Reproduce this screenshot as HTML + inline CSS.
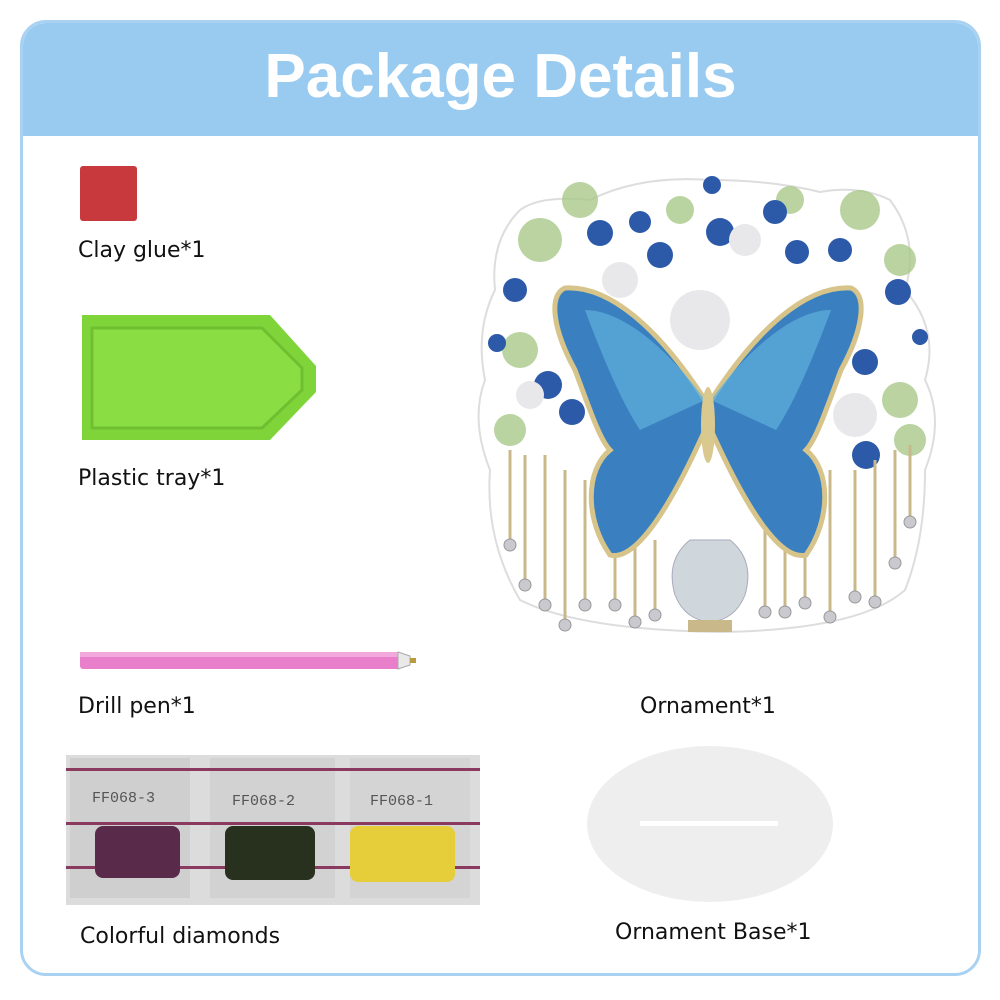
<!DOCTYPE html>
<html><head><meta charset="utf-8"><style>
body{margin:0;width:1000px;height:1000px;background:#fff;position:relative;overflow:hidden;font-family:"Liberation Sans",sans-serif}
.frame{position:absolute;left:20px;top:20px;width:961px;height:956px;border:3px solid #a9d2f2;border-radius:26px;box-sizing:border-box;overflow:hidden}
.hdr{position:absolute;left:0;top:0;width:100%;height:113px;background:#99cbf1}
.hdr div{position:absolute;left:0;right:0;top:18px;text-align:center;color:#fff;font-weight:bold;font-size:62px;font-family:"Liberation Sans",sans-serif}
.lbl{position:absolute;font-size:22px;color:#111;font-family:"DejaVu Sans","Liberation Sans",sans-serif;white-space:nowrap}
</style></head><body>
<div class="frame"><div class="hdr"><div>Package Details</div></div></div>
<div style="position:absolute;left:80px;top:166px;width:57px;height:55px;background:#c8393d;border-radius:3px"></div>
<div class="lbl" style="left:78px;top:238px">Clay glue*1</div>
<svg style="position:absolute;left:0;top:0" width="1000" height="1000">
<polygon points="82,315 270,315 316,366 316,392 270,440 82,440" fill="#7fd43a"/>
<polygon points="92,328 262,328 302,368 302,390 262,428 92,428" fill="#8ade44" stroke="#6fbf30" stroke-width="3"/>
<rect x="80" y="652" width="320" height="17" rx="3" fill="#e97fcb"/>
<rect x="80" y="652" width="320" height="5" fill="#f2a8dd"/>
<polygon points="398,652 410,656 410,665 398,669" fill="#e9e9e9" stroke="#aaa"/>
<rect x="410" y="658" width="6" height="5" fill="#b89a40"/>
<rect x="66" y="755" width="414" height="150" fill="#dcdcdc"/>
<rect x="70" y="758" width="120" height="140" fill="#cfcfcf"/>
<rect x="210" y="758" width="125" height="140" fill="#d2d2d2"/>
<rect x="350" y="758" width="120" height="140" fill="#d4d4d4"/>
<rect x="66" y="768" width="414" height="3" fill="#8a3a5e"/>
<rect x="66" y="822" width="414" height="3" fill="#8a3a5e"/>
<rect x="66" y="866" width="414" height="3" fill="#8a3a5e"/>
<rect x="95" y="826" width="85" height="52" fill="#5a2a4a" rx="8"/>
<rect x="225" y="826" width="90" height="54" fill="#28301e" rx="8"/>
<rect x="350" y="826" width="105" height="56" fill="#e6cd3a" rx="8"/>
<text x="92" y="802" font-family="Liberation Mono" font-size="15" fill="#555">FF068-3</text>
<text x="232" y="805" font-family="Liberation Mono" font-size="15" fill="#555">FF068-2</text>
<text x="370" y="805" font-family="Liberation Mono" font-size="15" fill="#555">FF068-1</text>
<ellipse cx="710" cy="824" rx="123" ry="78" fill="#eeeeee"/>
<rect x="640" y="821" width="138" height="5" fill="#fff"/>
<path d="M520,210 Q540,195 590,200 Q640,175 710,180 Q770,180 820,192 Q860,185 890,200 Q920,240 905,290 Q940,330 925,380 Q945,420 925,470 Q925,540 905,590 Q860,630 720,632 Q580,630 520,600 Q485,540 490,470 Q470,420 485,380 Q475,330 495,290 Q490,240 520,210Z" fill="#fff" stroke="#ddd" stroke-width="2"/>
<g fill="#a9c98a" opacity="0.8">
<circle cx="540" cy="240" r="22"/><circle cx="580" cy="200" r="18"/><circle cx="860" cy="210" r="20"/><circle cx="900" cy="260" r="16"/><circle cx="520" cy="350" r="18"/><circle cx="900" cy="400" r="18"/><circle cx="510" cy="430" r="16"/><circle cx="910" cy="440" r="16"/><circle cx="790" cy="200" r="14"/><circle cx="680" cy="210" r="14"/>
</g>
<g fill="#2d5aa8">
<circle cx="600" cy="233" r="13"/><circle cx="640" cy="222" r="11"/><circle cx="660" cy="255" r="13"/><circle cx="720" cy="232" r="14"/><circle cx="775" cy="212" r="12"/><circle cx="797" cy="252" r="12"/><circle cx="840" cy="250" r="12"/><circle cx="898" cy="292" r="13"/><circle cx="515" cy="290" r="12"/><circle cx="548" cy="385" r="14"/><circle cx="572" cy="412" r="13"/><circle cx="865" cy="362" r="13"/><circle cx="866" cy="455" r="14"/><circle cx="497" cy="343" r="9"/><circle cx="920" cy="337" r="8"/><circle cx="712" cy="185" r="9"/>
</g>
<g fill="#e8e8ea"><circle cx="620" cy="280" r="18"/><circle cx="745" cy="240" r="16"/><circle cx="700" cy="320" r="30"/><circle cx="855" cy="415" r="22"/><circle cx="530" cy="395" r="14"/></g>
<g stroke="#c9b98a" stroke-width="3">
<line x1="510" y1="450" x2="510" y2="540"/><line x1="525" y1="455" x2="525" y2="580"/><line x1="545" y1="455" x2="545" y2="600"/><line x1="565" y1="470" x2="565" y2="620"/><line x1="585" y1="480" x2="585" y2="600"/><line x1="615" y1="520" x2="615" y2="600"/><line x1="635" y1="520" x2="635" y2="620"/><line x1="655" y1="540" x2="655" y2="615"/>
<line x1="765" y1="520" x2="765" y2="610"/><line x1="785" y1="520" x2="785" y2="610"/><line x1="805" y1="500" x2="805" y2="600"/><line x1="830" y1="470" x2="830" y2="615"/><line x1="855" y1="470" x2="855" y2="595"/><line x1="875" y1="460" x2="875" y2="600"/><line x1="895" y1="450" x2="895" y2="560"/><line x1="910" y1="445" x2="910" y2="520"/>
</g>
<g fill="#c9c9cf" stroke="#999" stroke-width="1">
<circle cx="510" cy="545" r="6"/><circle cx="525" cy="585" r="6"/><circle cx="545" cy="605" r="6"/><circle cx="565" cy="625" r="6"/><circle cx="585" cy="605" r="6"/><circle cx="615" cy="605" r="6"/><circle cx="635" cy="622" r="6"/><circle cx="655" cy="615" r="6"/>
<circle cx="765" cy="612" r="6"/><circle cx="785" cy="612" r="6"/><circle cx="805" cy="603" r="6"/><circle cx="830" cy="617" r="6"/><circle cx="855" cy="597" r="6"/><circle cx="875" cy="602" r="6"/><circle cx="895" cy="563" r="6"/><circle cx="910" cy="522" r="6"/>
</g>
<path d="M690,540 Q665,560 675,595 Q685,620 710,622 Q735,620 745,595 Q755,560 730,540Z" fill="#cfd6dc" stroke="#aab" />
<rect x="688" y="620" width="44" height="12" fill="#c9b98a"/>
<path d="M705,400 C660,330 610,285 565,288 C548,295 553,330 575,370 C590,410 600,440 610,450 C585,470 585,520 610,555 C630,560 660,530 705,430Z" fill="#3a80c0" stroke="#d6c48a" stroke-width="5"/>
<path d="M711,400 C756,330 806,285 851,288 C868,295 863,330 841,370 C826,410 816,440 806,450 C831,470 831,520 806,555 C786,560 756,530 711,430Z" fill="#3a80c0" stroke="#d6c48a" stroke-width="5"/>
<path d="M705,400 C665,345 620,310 585,310 C600,350 620,400 640,430Z" fill="#5fb0dd" opacity="0.7"/>
<path d="M711,400 C751,345 796,310 831,310 C816,350 796,400 776,430Z" fill="#5fb0dd" opacity="0.7"/>
<ellipse cx="708" cy="425" rx="7" ry="38" fill="#d9c98f"/>
</svg>
<div class="lbl" style="left:78px;top:466px">Plastic tray*1</div>
<div class="lbl" style="left:78px;top:694px">Drill pen*1</div>
<div class="lbl" style="left:640px;top:694px">Ornament*1</div>
<div class="lbl" style="left:80px;top:924px">Colorful diamonds</div>
<div class="lbl" style="left:615px;top:920px">Ornament Base*1</div>
</body></html>
